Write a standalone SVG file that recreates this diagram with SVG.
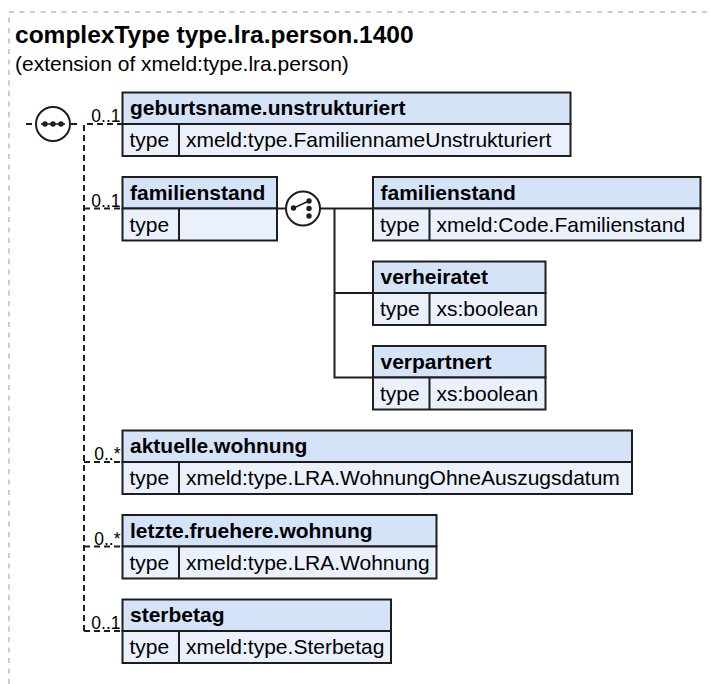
<svg xmlns="http://www.w3.org/2000/svg" width="710" height="684" viewBox="0 0 710 684">
<style>
  .frame{fill:none;stroke:#999;stroke-width:1;stroke-dasharray:5,5.5}
  .hd{fill:#D5E3F8;stroke:#1e1e1e;stroke-width:2}
  .rw{fill:#EAF1FC;stroke:#1e1e1e;stroke-width:2}
  .dv{stroke:#1e1e1e;stroke-width:2}
  .nm{font-family:"Liberation Sans",Arial,sans-serif;font-weight:bold;font-size:21px;fill:#000}
  .tx{font-family:"Liberation Sans",Arial,sans-serif;font-size:21px;fill:#000}
  .card{font-family:"Liberation Sans",Arial,sans-serif;font-size:17.5px;fill:#000;text-anchor:end}
  .dash{fill:none;stroke:#1e1e1e;stroke-width:2;stroke-dasharray:6,4}
  .solid{fill:none;stroke:#1e1e1e;stroke-width:2}
  .sym{fill:#fff;stroke:#1e1e1e;stroke-width:2}
  .dot{fill:#1e1e1e}
</style>
<path class="frame" d="M9,684 V12 H710"/>
<text x="15" y="43" style="font-family:'Liberation Sans',Arial,sans-serif;font-weight:bold;font-size:24.5px">complexType type.lra.person.1400</text>
<text x="15" y="71" style="font-family:'Liberation Sans',Arial,sans-serif;font-size:21px">(extension of xmeld:type.lra.person)</text>

<g id="connectors">
  <path class="dash" d="M26,124 H33"/>
  <path class="dash" d="M71,124 H77"/>
  <path class="dash" d="M84,631 V124 H122"/>
  <path class="dash" d="M84,208.5 H122"/>
  <path class="dash" d="M84,462 H122"/>
  <path class="dash" d="M84,546.5 H122"/>
  <path class="dash" d="M84,631 H122"/>
  <path class="solid" d="M277,208.5 H286"/>
  <path class="solid" d="M320,208.5 H373"/>
  <path class="solid" d="M334.5,208.5 V377.5 H373"/>
  <path class="solid" d="M334.5,293 H373"/>
  <text class="card" x="120.5" y="122">0..1</text>
  <text class="card" x="120.5" y="206.5">0..1</text>
  <text class="card" x="120.5" y="460">0..*</text>
  <text class="card" x="120.5" y="544.5">0..*</text>
  <text class="card" x="120.5" y="629">0..1</text>
</g>

<g id="sequence">
  <circle class="sym" cx="53" cy="124" r="17"/>
  <path d="M41,124 H65" stroke="#1e1e1e" stroke-width="1.5"/>
  <circle class="dot" cx="45" cy="124" r="2.7"/>
  <circle class="dot" cx="53" cy="124" r="2.7"/>
  <circle class="dot" cx="61" cy="124" r="2.7"/>
</g>

<g id="choice">
  <circle class="sym" cx="303" cy="208.5" r="17"/>
  <path d="M293.5,208 L309,201" stroke="#1e1e1e" stroke-width="1.5"/>
  <circle class="dot" cx="293.5" cy="208" r="2.7"/>
  <circle class="dot" cx="309" cy="201" r="2.7"/>
  <circle class="dot" cx="309" cy="208.5" r="2.7"/>
  <circle class="dot" cx="309" cy="216" r="2.7"/>
</g>

<g id="geburtsname.unstrukturiert">
  <rect class="hd" x="122.5" y="92.5" width="448" height="31.5"/>
  <rect class="rw" x="122.5" y="124" width="448" height="32"/>
  <line class="dv" x1="179" y1="124" x2="179" y2="156"/>
  <text class="nm" x="130" y="115">geburtsname.unstrukturiert</text>
  <text class="tx" x="129.5" y="147">type</text>
  <text class="tx" x="186" y="147">xmeld:type.FamiliennameUnstrukturiert</text>
</g>

<g id="familienstand">
  <rect class="hd" x="122.5" y="177" width="154.5" height="31.5"/>
  <rect class="rw" x="122.5" y="208.5" width="154.5" height="32"/>
  <line class="dv" x1="179" y1="208.5" x2="179" y2="240.5"/>
  <text class="nm" x="130" y="199.5">familienstand</text>
  <text class="tx" x="129.5" y="231.5">type</text>
</g>

<g id="familienstand.code">
  <rect class="hd" x="373" y="177" width="327.5" height="31.5"/>
  <rect class="rw" x="373" y="208.5" width="327.5" height="32"/>
  <line class="dv" x1="429.5" y1="208.5" x2="429.5" y2="240.5"/>
  <text class="nm" x="380.5" y="199.5">familienstand</text>
  <text class="tx" x="380" y="231.5">type</text>
  <text class="tx" x="436.5" y="231.5">xmeld:Code.Familienstand</text>
</g>

<g id="verheiratet">
  <rect class="hd" x="373" y="261.5" width="172.5" height="31.5"/>
  <rect class="rw" x="373" y="293" width="172.5" height="32"/>
  <line class="dv" x1="429.5" y1="293" x2="429.5" y2="325"/>
  <text class="nm" x="380.5" y="284">verheiratet</text>
  <text class="tx" x="380" y="316">type</text>
  <text class="tx" x="436.5" y="316">xs:boolean</text>
</g>

<g id="verpartnert">
  <rect class="hd" x="373" y="346" width="172.5" height="31.5"/>
  <rect class="rw" x="373" y="377.5" width="172.5" height="32"/>
  <line class="dv" x1="429.5" y1="377.5" x2="429.5" y2="409.5"/>
  <text class="nm" x="380.5" y="368.5">verpartnert</text>
  <text class="tx" x="380" y="400.5">type</text>
  <text class="tx" x="436.5" y="400.5">xs:boolean</text>
</g>

<g id="aktuelle.wohnung">
  <rect class="hd" x="122.5" y="430.5" width="509.5" height="31.5"/>
  <rect class="rw" x="122.5" y="462" width="509.5" height="32"/>
  <line class="dv" x1="179" y1="462" x2="179" y2="494"/>
  <text class="nm" x="130" y="453">aktuelle.wohnung</text>
  <text class="tx" x="129.5" y="485">type</text>
  <text class="tx" x="186" y="485">xmeld:type.LRA.WohnungOhneAuszugsdatum</text>
</g>

<g id="letzte.fruehere.wohnung">
  <rect class="hd" x="122.5" y="515" width="314" height="31.5"/>
  <rect class="rw" x="122.5" y="546.5" width="314" height="32"/>
  <line class="dv" x1="179" y1="546.5" x2="179" y2="578.5"/>
  <text class="nm" x="130" y="537.5">letzte.fruehere.wohnung</text>
  <text class="tx" x="129.5" y="569.5">type</text>
  <text class="tx" x="186" y="569.5">xmeld:type.LRA.Wohnung</text>
</g>

<g id="sterbetag">
  <rect class="hd" x="122.5" y="599.5" width="268.5" height="31.5"/>
  <rect class="rw" x="122.5" y="631" width="268.5" height="32"/>
  <line class="dv" x1="179" y1="631" x2="179" y2="663"/>
  <text class="nm" x="130" y="622">sterbetag</text>
  <text class="tx" x="129.5" y="654">type</text>
  <text class="tx" x="186" y="654">xmeld:type.Sterbetag</text>
</g>
</svg>
